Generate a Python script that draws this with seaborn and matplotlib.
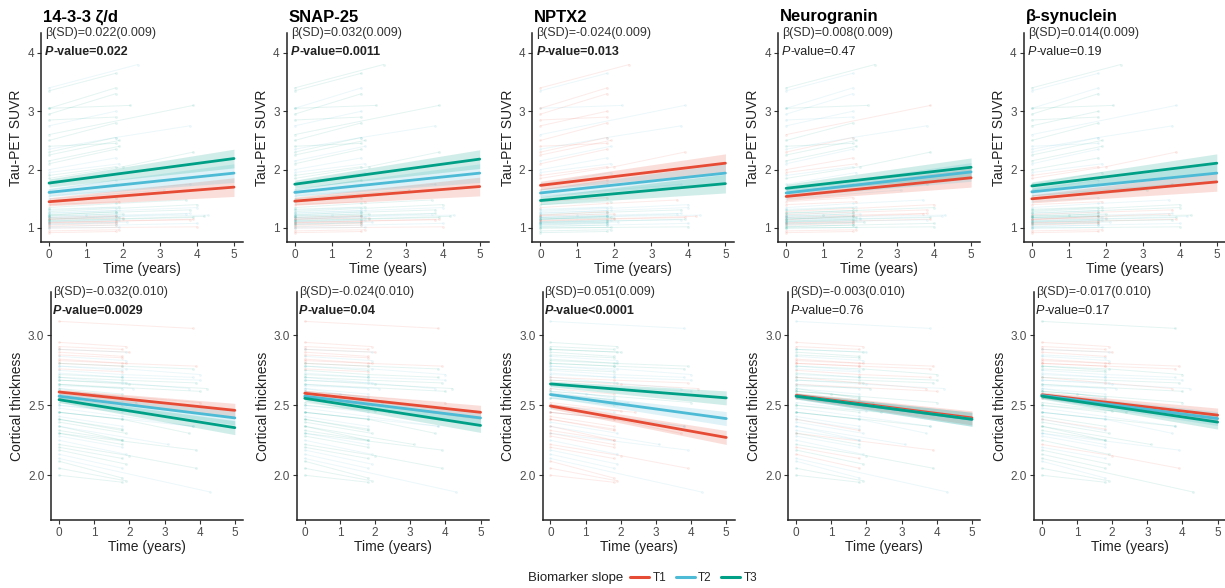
import numpy as np
import pandas as pd
import seaborn as sns
import matplotlib.pyplot as plt
from matplotlib.lines import Line2D

# ---- data ----
biomarkers = ["14-3-3 ζ/d", "SNAP-25", "NPTX2", "Neurogranin", "β-synuclein"]

tau_beta = ["0.022(0.009)", "0.032(0.009)", "-0.024(0.009)", "0.008(0.009)", "0.014(0.009)"]
tau_p = ["=0.022", "=0.0011", "=0.013", "=0.47", "=0.19"]
tau_sig = [True, True, True, False, False]
ct_beta = ["-0.032(0.010)", "-0.024(0.010)", "0.051(0.009)", "-0.003(0.010)", "-0.017(0.010)"]
ct_p = ["=0.0029", "=0.04", "<0.0001", "=0.76", "=0.17"]
ct_sig = [True, True, True, False, False]

# fitted tertile lines: value at time 0 and at time 5 (T1, T2, T3)
tau_t0 = [[1.45, 1.61, 1.77], [1.46, 1.61, 1.75], [1.73, 1.60, 1.47], [1.54, 1.60, 1.68], [1.50, 1.62, 1.72]]
tau_t5 = [[1.70, 1.94, 2.19], [1.71, 1.94, 2.18], [2.11, 1.94, 1.76], [1.86, 1.96, 2.04], [1.79, 1.94, 2.11]]
ct_t0 = [[2.595, 2.565, 2.54], [2.586, 2.565, 2.55], [2.495, 2.577, 2.653], [2.57, 2.565, 2.565], [2.575, 2.57, 2.565]]
ct_t5 = [[2.464, 2.41, 2.34], [2.45, 2.41, 2.356], [2.27, 2.405, 2.553], [2.41, 2.40, 2.40], [2.43, 2.405, 2.38]]
# half width of the confidence band at time 0 and time 5
tau_hw = [0.07, 0.16]
ct_hw = [0.02, 0.05]

# individual trajectories (same subjects in every panel)
subj_time = [
    [0, 1.8], [0, 1.9], [0, 1.8, 3.9], [0, 2.0], [0, 1.8, 3.8], [0, 4.0], [0, 1.8], [0, 1.9, 4.0],
    [0, 1.8], [0, 2.0, 4.2], [0, 1.8], [0, 1.9], [0, 1.8, 3.7], [0, 1.0, 1.8], [0, 1.8], [0, 3.1],
    [0, 1.8], [0, 1.9], [0, 2.0, 3.9], [0, 1.8], [0, 1.8], [0, 1.9], [0, 1.8, 3.8], [0, 1.8],
    [0, 3.9], [0, 1.8], [0, 2.2], [0, 1.8], [0, 2.4], [0, 1.8], [0, 1.9], [0, 1.8, 4.0],
    [0, 1.8], [0, 1.9], [0, 1.8], [0, 4.3], [0, 1.8], [0, 1.8],
    [0, 1.8], [0, 1.9], [0, 1.8, 3.9], [0, 1.8], [0, 2.0], [0, 1.8, 3.7], [0, 1.8], [0, 1.9],
    [0, 1.8], [0, 4.0], [0, 1.8], [0, 1.9], [0, 1.8], [0, 3.8], [0, 1.8], [0, 1.8],
    [0, 2.1], [0, 1.8, 3.8], [0, 1.8], [0, 1.9], [0, 3.8],
]
subj_tau = [
    [1.05, 1.08], [1.10, 1.13], [1.12, 1.15, 1.18], [1.15, 1.17], [1.18, 1.22, 1.25], [1.00, 1.02],
    [1.22, 1.28], [1.25, 1.30, 1.35], [1.08, 1.10], [1.13, 1.16, 1.20], [1.30, 1.35], [0.95, 0.97],
    [1.35, 1.42, 1.48], [1.20, 1.22, 1.25], [1.45, 1.52], [1.50, 1.65], [1.60, 1.75], [1.75, 1.95],
    [1.85, 2.05, 2.30], [2.00, 2.20], [2.10, 2.35], [2.25, 2.50], [2.35, 2.55, 2.75], [2.50, 2.80],
    [2.60, 3.10], [2.75, 3.00], [3.05, 3.10], [3.05, 3.40], [3.40, 3.80], [3.35, 3.65],
    [1.40, 1.45], [1.02, 1.05, 1.08], [2.85, 2.90], [1.95, 2.10], [1.15, 1.20], [1.18, 1.22],
    [0.92, 0.94], [2.40, 2.45],
    [1.06, 1.09], [1.16, 1.18], [1.09, 1.12, 1.15], [1.26, 1.30], [1.21, 1.24], [1.14, 1.20, 1.24],
    [1.03, 1.05], [1.32, 1.36], [1.11, 1.14], [1.28, 1.40], [1.65, 1.82], [2.15, 2.40],
    [1.90, 2.05], [1.55, 1.75], [2.30, 2.55], [1.18, 1.21], [1.07, 1.10], [1.23, 1.27, 1.31],
    [2.95, 3.30], [1.00, 1.01], [1.10, 1.14],
]
subj_ct = [
    [2.80, 2.78], [2.85, 2.82], [2.70, 2.68, 2.66], [2.90, 2.88], [2.75, 2.72, 2.70], [2.60, 2.52],
    [2.65, 2.62], [2.78, 2.76, 2.72], [2.55, 2.50], [2.68, 2.65, 2.62], [2.50, 2.45], [2.95, 2.92],
    [2.45, 2.40, 2.30], [2.60, 2.58, 2.56], [2.40, 2.32], [2.35, 2.22], [2.30, 2.22], [2.25, 2.15],
    [2.22, 2.14, 2.05], [2.15, 2.05], [2.10, 1.98], [2.05, 1.96], [2.48, 2.42, 2.35], [2.00, 1.95],
    [2.30, 2.18], [2.42, 2.35], [2.55, 2.52], [2.62, 2.58], [2.50, 2.45], [2.72, 2.70],
    [2.83, 2.80], [2.73, 2.70, 2.68], [2.35, 2.25], [2.58, 2.50], [2.88, 2.85], [2.12, 1.88],
    [2.92, 2.90], [2.45, 2.40],
    [2.78, 2.75], [2.68, 2.66], [2.82, 2.80, 2.78], [2.62, 2.55], [2.52, 2.46], [2.70, 2.66, 2.62],
    [2.86, 2.84], [2.38, 2.30], [2.58, 2.54], [2.65, 2.60], [2.28, 2.20], [2.18, 2.08],
    [2.40, 2.33], [2.45, 2.35], [2.20, 2.12], [2.76, 2.74], [2.64, 2.62], [2.80, 2.78, 2.76],
    [2.32, 2.25], [2.90, 2.88], [3.10, 3.05],
]
# tertile of each subject for each biomarker
subj_tertile = [
    [1, 2, 3, 1, 2, 1, 3, 2, 1, 3, 2, 1, 3, 2, 3, 2, 3, 2, 3, 2, 3, 3, 2, 3, 3, 2, 3, 3, 2, 3, 1, 2, 3, 2, 1, 2, 1, 3,
     2, 3, 1, 2, 3, 2, 1, 3, 2, 3, 2, 3, 3, 2, 3, 1, 2, 3, 3, 2, 1],
    [1, 2, 3, 1, 3, 1, 2, 2, 1, 3, 2, 1, 3, 2, 3, 3, 2, 2, 3, 2, 3, 3, 2, 3, 3, 2, 3, 2, 3, 3, 1, 2, 3, 2, 1, 2, 1, 3,
     3, 2, 1, 2, 3, 2, 1, 3, 2, 3, 3, 2, 3, 2, 3, 1, 2, 3, 3, 2, 1],
    [3, 2, 1, 3, 2, 3, 1, 2, 3, 1, 2, 3, 1, 2, 1, 2, 1, 2, 1, 2, 1, 1, 2, 1, 2, 1, 2, 1, 1, 2, 3, 2, 1, 2, 3, 2, 3, 1,
     2, 3, 3, 2, 1, 2, 3, 2, 3, 2, 1, 2, 1, 2, 1, 3, 2, 3, 1, 3, 2],
    [1, 2, 3, 2, 1, 3, 2, 3, 1, 2, 3, 1, 2, 3, 1, 2, 3, 2, 3, 1, 2, 3, 2, 3, 1, 2, 3, 2, 3, 2, 1, 3, 2, 1, 3, 2, 1, 3,
     2, 3, 1, 3, 2, 1, 3, 2, 3, 1, 2, 3, 2, 3, 1, 2, 3, 1, 2, 3, 2],
    [1, 2, 3, 1, 2, 3, 2, 3, 1, 2, 3, 1, 2, 3, 2, 3, 2, 3, 1, 3, 2, 3, 2, 3, 2, 3, 3, 2, 3, 2, 1, 2, 3, 2, 1, 3, 1, 2,
     3, 2, 1, 2, 3, 1, 2, 3, 2, 3, 2, 3, 1, 3, 2, 3, 2, 1, 3, 2, 3],
]

tertiles = ["T1", "T2", "T3"]
palette = {"T1": "#E64B35", "T2": "#4DBBD5", "T3": "#00A087"}

sns.set_theme(style="ticks")
plt.rcParams["font.family"] = ["Liberation Sans", "DejaVu Sans"]

W, H = 1225, 588
fig = plt.figure(figsize=(W / 100, H / 100), dpi=100)


def add_ax(left, top, width, height):
    return fig.add_axes([left / W, 1 - (top + height) / H, width / W, height / H])


def spaghetti(ax, values, tert):
    rows = []
    for i, (ts, vs) in enumerate(zip(subj_time, values)):
        for t, v in zip(ts, vs):
            rows.append({"subj": i, "time": t, "value": v, "tertile": tertiles[tert[i] - 1]})
    df = pd.DataFrame(rows)
    sns.lineplot(data=df, x="time", y="value", units="subj", estimator=None, hue="tertile",
                 palette=palette, alpha=0.11, lw=0.7, marker="o", markersize=2.0,
                 markeredgewidth=0, legend=False, ax=ax, zorder=1)


def fits(ax, v0, v5, hw):
    rows = []
    for k, tr in enumerate(tertiles):
        ax.fill_between([0, 5], [v0[k] - hw[0], v5[k] - hw[1]], [v0[k] + hw[0], v5[k] + hw[1]],
                        color=palette[tr], alpha=0.18, lw=0, zorder=2)
        rows.append({"time": 0, "value": v0[k], "tertile": tr})
        rows.append({"time": 5, "value": v5[k], "tertile": tr})
    df = pd.DataFrame(rows)
    sns.lineplot(data=df, x="time", y="value", hue="tertile", hue_order=tertiles,
                 palette=palette, lw=2.0, legend=False, ax=ax, zorder=3)


def style(ax, ylabel):
    for s in ["top", "right"]:
        ax.spines[s].set_visible(False)
    for s in ["left", "bottom"]:
        ax.spines[s].set_color("#222222")
        ax.spines[s].set_linewidth(1.1)
    ax.tick_params(axis="both", colors="#333333", labelcolor="#4D4D4D", labelsize=8.5,
                   length=3, width=0.8, pad=2)
    ax.set_xlim(-0.22, 5.24)
    ax.set_xticks([0, 1, 2, 3, 4, 5])
    ax.set_xlabel("Time (years)", fontsize=10, color="#222222", labelpad=1)
    ax.set_ylabel(ylabel, fontsize=10, color="#222222", labelpad=3)


def stats(ax, beta, p, sig, xoff, h):
    ax.text(xoff, 1.0, "β(SD)=" + beta, transform=ax.transAxes, fontsize=9,
            color="#333333", va="center", ha="left")
    w = "bold" if sig else "normal"
    t1 = ax.text(xoff, 1.0 - 19 / h, "P", transform=ax.transAxes, fontsize=9,
                 color="#222222", va="center", ha="left", style="italic", weight=w)
    ax.annotate("-value" + p, xy=(1, 0), xycoords=t1, va="bottom", ha="left",
                fontsize=9, color="#222222", weight=w)


col_step = 245.7
for c in range(5):
    # top row: tau-PET
    ax = add_ax(40.9 + col_step * c, 33, 202, 209)
    spaghetti(ax, subj_tau, subj_tertile[c])
    fits(ax, tau_t0[c], tau_t5[c], tau_hw)
    style(ax, "Tau-PET SUVR")
    ax.set_ylim(0.76, 4.34)
    ax.set_yticks([1, 2, 3, 4])
    ax.text(0.01, 1 + 16 / 209, biomarkers[c], transform=ax.transAxes, fontsize=12,
            weight="bold", color="black", va="center", ha="left")
    stats(ax, tau_beta[c], tau_p[c], tau_sig[c], 0.02, 209)

    # bottom row: cortical thickness
    ax = add_ax(51.3 + col_step * c, 292, 192, 228)
    spaghetti(ax, subj_ct, subj_tertile[c])
    fits(ax, ct_t0[c], ct_t5[c], ct_hw)
    style(ax, "Cortical thickness")
    ax.set_ylim(1.68, 3.31)
    ax.set_yticks([2.0, 2.5, 3.0])
    ax.set_yticklabels(["2.0", "2.5", "3.0"])
    stats(ax, ct_beta[c], ct_p[c], ct_sig[c], 0.01, 228)

handles = [Line2D([], [], color=palette[t], lw=2.2) for t in tertiles]
fig.text(528 / W, 1 - 578 / H, "Biomarker slope", fontsize=9.5, color="#222222", va="center", ha="left")
fig.legend(handles, tertiles, loc="center left", bbox_to_anchor=(630 / W, 1 - 578 / H), ncol=3,
           frameon=False, fontsize=8.5, handlelength=1.6, handletextpad=0.3, columnspacing=0.8,
           borderaxespad=0, borderpad=0)

fig.savefig("out.png", dpi=100)
